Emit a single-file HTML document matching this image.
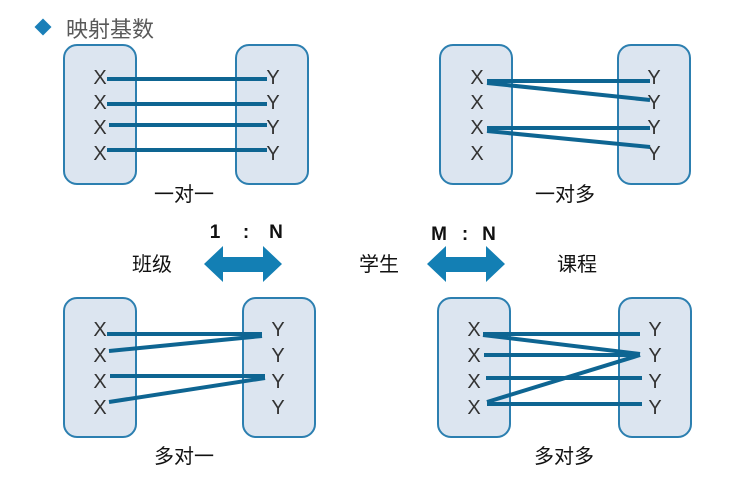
<!DOCTYPE html>
<html><head><meta charset="utf-8"><style>
html,body{margin:0;padding:0;background:#fff;}
svg{display:block;}
.xy{font-family:"Liberation Sans",sans-serif;font-size:20px;fill:#333;text-anchor:middle;}
.cn{font-family:"Liberation Sans","Noto Sans CJK SC",sans-serif;font-size:20px;fill:#111;text-anchor:middle;}
.box{fill:#dce5f0;stroke:#2c7fb0;stroke-width:2;}
.ln{stroke:#0e6592;stroke-width:4;stroke-linecap:butt;}
.lb{font-family:"Liberation Sans",sans-serif;font-size:19px;font-weight:bold;fill:#111;text-anchor:middle;}
</style></head><body>
<svg width="755" height="477" viewBox="0 0 755 477">
<rect x="37" y="21" width="12" height="12" fill="#1a7fb8" transform="rotate(45 43 27)"/>
<text x="66" y="37" font-family="Liberation Sans,'Noto Sans CJK SC',sans-serif" font-size="22" fill="#595959">映射基数</text>

<!-- panel 1 -->
<rect class="box" x="64" y="45" width="72" height="139" rx="13"/>
<rect class="box" x="236" y="45" width="72" height="139" rx="13"/>
<g class="xy"><text x="100" y="84">X</text><text x="100" y="109">X</text><text x="100" y="134">X</text><text x="100" y="160">X</text>
<text x="273" y="84">Y</text><text x="273" y="109">Y</text><text x="273" y="134">Y</text><text x="273" y="160">Y</text></g>
<line class="ln" x1="107" y1="79" x2="267" y2="79"/>
<line class="ln" x1="107" y1="104" x2="267" y2="104"/>
<line class="ln" x1="109" y1="125" x2="267" y2="125"/>
<line class="ln" x1="107" y1="150" x2="267" y2="150"/>
<text class="cn" x="184" y="201">一对一</text>

<!-- panel 2 -->
<rect class="box" x="440" y="45" width="72" height="139" rx="13"/>
<rect class="box" x="618" y="45" width="72" height="139" rx="13"/>
<g class="xy"><text x="477" y="84">X</text><text x="477" y="109">X</text><text x="477" y="134">X</text><text x="477" y="160">X</text>
<text x="654" y="84">Y</text><text x="654" y="109">Y</text><text x="654" y="134">Y</text><text x="654" y="160">Y</text></g>
<line class="ln" x1="487" y1="81" x2="650" y2="81"/>
<line class="ln" x1="487" y1="83" x2="650" y2="100"/>
<line class="ln" x1="487" y1="128" x2="650" y2="128"/>
<line class="ln" x1="487" y1="131" x2="650" y2="147"/>
<text class="cn" x="565" y="201">一对多</text>

<!-- middle -->
<text class="lb" x="215" y="238">1</text><text class="lb" x="246" y="238">:</text><text class="lb" x="276" y="238">N</text>
<text class="lb" x="439" y="240">M</text><text class="lb" x="465" y="240">:</text><text class="lb" x="489" y="240">N</text>
<text class="cn" x="152" y="271">班级</text>
<text class="cn" x="379" y="271">学生</text>
<text class="cn" x="577" y="271">课程</text>
<polygon fill="#137fb4" points="204,264 223,246 223,257 263,257 263,246 282,264 263,282 263,272 223,272 223,282"/>
<polygon fill="#137fb4" points="427,264 446,246 446,257 486,257 486,246 505,264 486,282 486,272 446,272 446,282"/>

<!-- panel 3 -->
<rect class="box" x="64" y="298" width="72" height="139" rx="13"/>
<rect class="box" x="243" y="298" width="72" height="139" rx="13"/>
<g class="xy"><text x="100" y="336">X</text><text x="100" y="362">X</text><text x="100" y="388">X</text><text x="100" y="414">X</text>
<text x="278" y="336">Y</text><text x="278" y="362">Y</text><text x="278" y="388">Y</text><text x="278" y="414">Y</text></g>
<line class="ln" x1="107" y1="334" x2="262" y2="334"/>
<line class="ln" x1="109" y1="351" x2="262" y2="336"/>
<line class="ln" x1="110" y1="376" x2="265" y2="376"/>
<line class="ln" x1="109" y1="402" x2="265" y2="378"/>
<text class="cn" x="184" y="463">多对一</text>

<!-- panel 4 -->
<rect class="box" x="438" y="298" width="72" height="139" rx="13"/>
<rect class="box" x="619" y="298" width="72" height="139" rx="13"/>
<g class="xy"><text x="474" y="336">X</text><text x="474" y="362">X</text><text x="474" y="388">X</text><text x="474" y="414">X</text>
<text x="655" y="336">Y</text><text x="655" y="362">Y</text><text x="655" y="388">Y</text><text x="655" y="414">Y</text></g>
<line class="ln" x1="483" y1="334" x2="640" y2="334"/>
<line class="ln" x1="483" y1="335" x2="640" y2="354"/>
<line class="ln" x1="484" y1="355" x2="640" y2="355"/>
<line class="ln" x1="486" y1="378" x2="642" y2="378"/>
<line class="ln" x1="487" y1="402" x2="640" y2="355"/>
<line class="ln" x1="487" y1="404" x2="642" y2="404"/>
<text class="cn" x="564" y="463">多对多</text>
</svg>
</body></html>
